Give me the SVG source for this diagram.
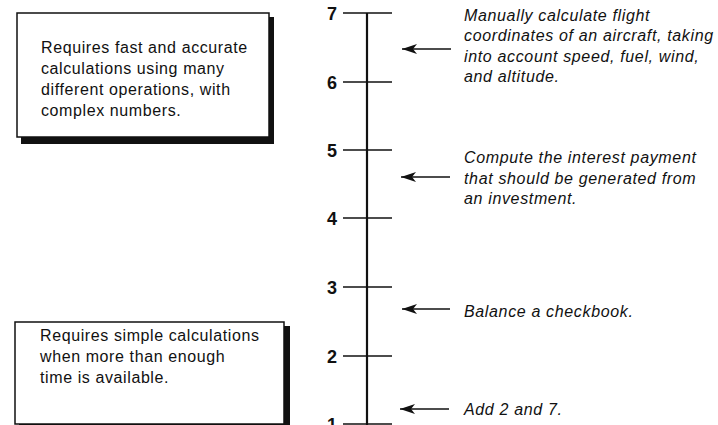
<svg xmlns="http://www.w3.org/2000/svg" width="718" height="425" viewBox="0 0 718 425">
<defs>
<style>
.box{fill:#fff;stroke:#111;stroke-width:1.5}
.shadow{fill:#111}
.bt{font-family:"Liberation Sans",Arial,sans-serif;font-size:16px;letter-spacing:0.6px;fill:#111}
.it{font-family:"Liberation Sans",Arial,sans-serif;font-size:16px;letter-spacing:0.65px;font-style:italic;fill:#111}
.num{font-family:"Liberation Sans",Arial,sans-serif;font-size:18px;font-weight:bold;fill:#111}
.tick{stroke:#111;stroke-width:1.6}
.axis{stroke:#111;stroke-width:2.2}
.arr{stroke:#111;stroke-width:1.6;fill:none}
</style>
<marker id="ah" markerWidth="16" markerHeight="11" refX="15" refY="5.5" orient="auto" markerUnits="userSpaceOnUse">
<path d="M15,5.5 L0,0.5 L4,5.5 L0,10.5 Z" fill="#111"/>
</marker>
</defs>
<rect width="718" height="425" fill="#fff"/>
<g id="box-top">
<rect class="shadow" x="21" y="17" width="253" height="127"/>
<rect class="box" x="17" y="13" width="252" height="124"/>
<text class="bt" x="41" y="53">Requires fast and accurate</text>
<text class="bt" x="41" y="74">calculations using many</text>
<text class="bt" x="41" y="95">different operations, with</text>
<text class="bt" x="41" y="116">complex numbers.</text>
</g>
<g id="box-bottom">
<rect class="shadow" x="19" y="326" width="271" height="103"/>
<rect class="box" x="15" y="322" width="269" height="102"/>
<text class="bt" x="40" y="341">Requires simple calculations</text>
<text class="bt" x="40" y="362">when more than enough</text>
<text class="bt" x="40" y="383">time is available.</text>
</g>
<g id="scale">
<line class="axis" x1="367" y1="13" x2="367" y2="425"/>
<line class="tick" x1="343" y1="13" x2="392" y2="13"/>
<line class="tick" x1="343" y1="82" x2="392" y2="82"/>
<line class="tick" x1="343" y1="150" x2="392" y2="150"/>
<line class="tick" x1="343" y1="218" x2="392" y2="218"/>
<line class="tick" x1="343" y1="287" x2="392" y2="287"/>
<line class="tick" x1="343" y1="356" x2="392" y2="356"/>
<line class="tick" x1="343" y1="424" x2="392" y2="424"/>
<text class="num" x="327" y="20">7</text>
<text class="num" x="327" y="89">6</text>
<text class="num" x="327" y="157">5</text>
<text class="num" x="327" y="225">4</text>
<text class="num" x="327" y="294">3</text>
<text class="num" x="327" y="363">2</text>
<text class="num" x="327" y="431">1</text>
</g>
<g id="connectors">
<line class="arr" x1="451" y1="49" x2="402" y2="49" marker-end="url(#ah)"/>
<line class="arr" x1="450" y1="177" x2="401" y2="177" marker-end="url(#ah)"/>
<line class="arr" x1="450" y1="309" x2="402" y2="309" marker-end="url(#ah)"/>
<line class="arr" x1="449" y1="409" x2="400" y2="409" marker-end="url(#ah)"/>
</g>
<g id="label-7">
<text class="it" x="464" y="21">Manually calculate flight</text>
<text class="it" x="464" y="41">coordinates of an aircraft, taking</text>
<text class="it" x="464" y="62">into account speed, fuel, wind,</text>
<text class="it" x="464" y="82">and altitude.</text>
</g>
<g id="label-5">
<text class="it" x="464" y="163">Compute the interest payment</text>
<text class="it" x="464" y="184">that should be generated from</text>
<text class="it" x="464" y="204">an investment.</text>
</g>
<g id="label-3">
<text class="it" x="464" y="317">Balance a checkbook.</text>
</g>
<g id="label-1">
<text class="it" x="464" y="415">Add 2 and 7.</text>
</g>
</svg>
